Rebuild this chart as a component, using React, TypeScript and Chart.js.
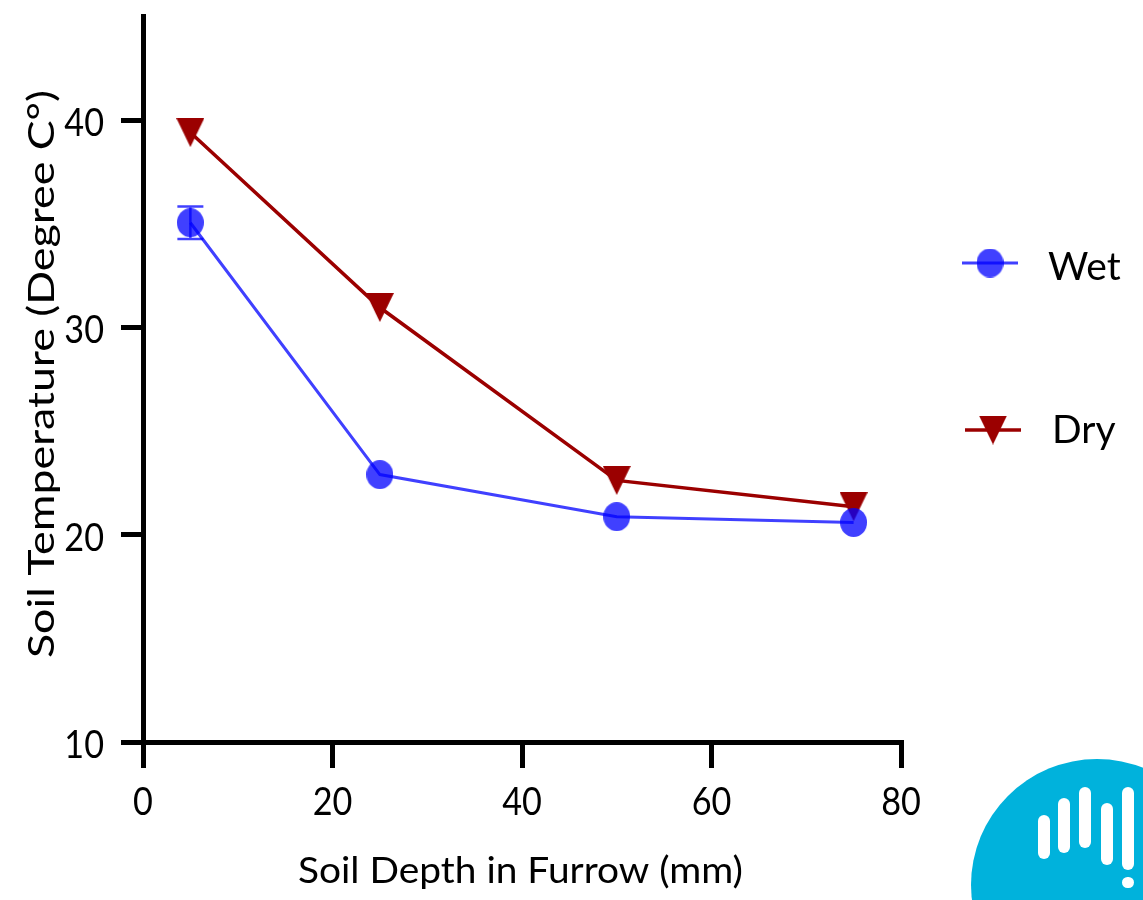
import React, { useEffect, useRef } from "react";
import { Chart, registerables } from "chart.js";

Chart.register(...registerables);

// ---- data ----
const depthMm = [5, 25, 50, 75];
const wetTemp = [35.05, 22.9, 20.87, 20.59];
const wetErr = [0.78, 0, 0, 0];
const dryTemp = [39.4, 30.96, 22.62, 21.35];
const xTickValues = [0, 20, 40, 60, 80];
const yTickValues = [10, 20, 30, 40];
const seriesNames = ["Wet", "Dry"];
const xTitle = "Soil Depth in Furrow (mm)";
const yTitle = "Soil Temperature (Degree C°)";

// ---- styles ----
const WET = "rgba(0,0,255,0.75)";
const DRY = "#9b0000";
const FONT = "Lato, 'Open Sans', sans-serif";
const TICK_SIZE = 38;

function makeEllipse(w: number, h: number, color: string) {
  const c = document.createElement("canvas");
  c.width = w;
  c.height = h;
  const g = c.getContext("2d")!;
  g.fillStyle = color;
  g.beginPath();
  g.ellipse(w / 2, h / 2, w / 2, h / 2, 0, 0, Math.PI * 2);
  g.fill();
  return c;
}

function makeDownTriangle(w: number, h: number, color: string) {
  const c = document.createElement("canvas");
  c.width = w;
  c.height = h;
  const g = c.getContext("2d")!;
  g.fillStyle = color;
  g.beginPath();
  g.moveTo(0, 0);
  g.lineTo(w, 0);
  g.lineTo(w / 2, h);
  g.closePath();
  g.fill();
  return c;
}

const LOGO_BARS = [
  { left: 1038, top: 815, height: 44 },
  { left: 1058, top: 798, height: 55 },
  { left: 1079, top: 787, height: 61 },
  { left: 1101, top: 803, height: 62 },
  { left: 1122, top: 787, height: 83 },
  { left: 1122, top: 877, height: 11 },
];

export default function App() {
  const ref = useRef<HTMLCanvasElement>(null);

  useEffect(() => {
    const canvas = ref.current;
    if (!canvas) return;
    const wetImg = makeEllipse(27, 29, WET);
    const dryImg = makeDownTriangle(28, 29, DRY);

    const errorBarPlugin = {
      id: "errorBars",
      beforeDatasetsDraw(chart: any) {
        const { ctx, scales } = chart;
        const x = scales.x;
        const y = scales.y;
        ctx.save();
        ctx.strokeStyle = WET;
        ctx.lineWidth = 2.5;
        ctx.beginPath();
        depthMm.forEach((d, i) => {
          const e = wetErr[i];
          if (!e) return;
          const px = x.getPixelForValue(d);
          const top = y.getPixelForValue(wetTemp[i] + e);
          const bot = y.getPixelForValue(wetTemp[i] - e);
          ctx.moveTo(px, top);
          ctx.lineTo(px, bot);
          ctx.moveTo(px - 13, top);
          ctx.lineTo(px + 13, top);
          ctx.moveTo(px - 13, bot);
          ctx.lineTo(px + 13, bot);
        });
        ctx.stroke();
        ctx.restore();
      },
    };

    const textPlugin = {
      id: "axisText",
      afterDraw(chart: any) {
        const { ctx, chartArea, scales } = chart;
        ctx.save();
        ctx.fillStyle = "#000";
        ctx.textBaseline = "alphabetic";
        // tick labels
        ctx.font = `${TICK_SIZE}px ${FONT}`;
        ctx.textAlign = "center";
        xTickValues.forEach((v) => {
          const px = scales.x.getPixelForValue(v);
          ctx.save();
          ctx.translate(px, 815);
          ctx.scale(0.9, 1);
          ctx.fillText(String(v), 0, 0);
          ctx.restore();
        });
        ctx.textAlign = "right";
        yTickValues.forEach((v) => {
          const py = scales.y.getPixelForValue(v);
          ctx.save();
          ctx.translate(104, py + 16);
          ctx.scale(0.9, 1);
          ctx.fillText(String(v), 0, 0);
          ctx.restore();
        });
        // axis titles
        ctx.textAlign = "center";
        ctx.font = `37px ${FONT}`;
        let w = ctx.measureText(xTitle).width;
        ctx.save();
        ctx.translate((chartArea.left + chartArea.right) / 2 - 1.5, 883);
        ctx.scale(445 / w, 1);
        ctx.fillText(xTitle, 0, 0);
        ctx.restore();
        w = ctx.measureText(yTitle).width;
        ctx.save();
        ctx.translate(54, 374);
        ctx.rotate(-Math.PI / 2);
        ctx.scale(568 / w, 1);
        ctx.fillText(yTitle, 0, 0);
        ctx.restore();
        ctx.restore();
      },
    };

    const legendPlugin = {
      id: "sideLegend",
      afterDraw(chart: any) {
        const { ctx } = chart;
        const items = [
          { name: seriesNames[0], color: WET, img: wetImg, x1: 962, x2: 1018, y: 263, lw: 3, tx: 1048, ty: 280 },
          { name: seriesNames[1], color: DRY, img: dryImg, x1: 965, x2: 1021, y: 430, lw: 3.5, tx: 1052, ty: 443 },
        ];
        ctx.save();
        items.forEach((it) => {
          ctx.strokeStyle = it.color;
          ctx.lineWidth = it.lw;
          ctx.beginPath();
          ctx.moveTo(it.x1, it.y);
          ctx.lineTo(it.x2, it.y);
          ctx.stroke();
          const cx = (it.x1 + it.x2) / 2;
          ctx.drawImage(it.img, cx - it.img.width / 2, it.y - it.img.height / 2);
          ctx.fillStyle = "#000";
          ctx.font = `39px ${FONT}`;
          ctx.textAlign = "left";
          ctx.textBaseline = "alphabetic";
          ctx.fillText(it.name, it.tx, it.ty);
        });
        ctx.restore();
      },
    };

    const zeroPad = (s: any) => {
      s.paddingTop = 0;
      s.paddingBottom = 0;
      s.paddingLeft = 0;
      s.paddingRight = 0;
    };

    const chart = new Chart(canvas, {
      type: "line",
      data: {
        datasets: [
          {
            label: seriesNames[0],
            data: depthMm.map((d, i) => ({ x: d, y: wetTemp[i] })),
            borderColor: WET,
            borderWidth: 3,
            pointStyle: wetImg as any,
            pointRadius: 13,
            tension: 0,
          },
          {
            label: seriesNames[1],
            data: depthMm.map((d, i) => ({ x: d, y: dryTemp[i] })),
            borderColor: DRY,
            borderWidth: 3.5,
            pointStyle: dryImg as any,
            pointRadius: 13,
            tension: 0,
          },
        ],
      },
      options: {
        animation: false,
        responsive: false,
        maintainAspectRatio: false,
        layout: { padding: { left: 0, top: 14, right: 242, bottom: 0 } },
        plugins: {
          legend: { display: false },
          tooltip: { enabled: false },
        },
        scales: {
          x: {
            type: "linear",
            min: 0,
            max: 80,
            afterFit: (s: any) => {
              s.height = 158;
              zeroPad(s);
            },
            afterBuildTicks: (a: any) => {
              a.ticks = xTickValues.map((v) => ({ value: v }));
            },
            grid: { drawOnChartArea: false, drawTicks: true, tickLength: 26, color: "#000", lineWidth: 5 },
            border: { display: true, color: "#000", width: 5 },
            ticks: { color: "rgba(0,0,0,0)", font: { family: FONT, size: TICK_SIZE }, padding: 10, maxRotation: 0, autoSkip: false },
            title: { display: false },
          },
          y: {
            type: "linear",
            min: 10,
            max: 45,
            afterFit: (s: any) => {
              s.width = 143;
              zeroPad(s);
            },
            afterBuildTicks: (a: any) => {
              a.ticks = yTickValues.map((v) => ({ value: v }));
            },
            grid: { drawOnChartArea: false, drawTicks: true, tickLength: 22, color: "#000", lineWidth: 5 },
            border: { display: true, color: "#000", width: 5 },
            ticks: { color: "rgba(0,0,0,0)", font: { family: FONT, size: TICK_SIZE }, padding: 18, autoSkip: false },
            title: { display: false },
          },
        },
      },
      plugins: [errorBarPlugin, textPlugin, legendPlugin],
    });
    return () => chart.destroy();
  }, []);

  return (
    <div style={{ position: "absolute", left: 0, top: 0, width: 1143, height: 900, overflow: "hidden", background: "#fff" }}>
      <canvas ref={ref} width={1143} height={900} style={{ display: "block", width: 1143, height: 900 }} />
      <div
        style={{
          position: "absolute",
          left: 971,
          top: 759,
          width: 252,
          height: 252,
          borderRadius: "50%",
          background: "#00b2dc",
        }}
      />
      {LOGO_BARS.map((b, i) => (
        <div
          key={i}
          style={{
            position: "absolute",
            left: b.left,
            top: b.top,
            width: 12,
            height: b.height,
            borderRadius: 6,
            background: "#fff",
          }}
        />
      ))}
    </div>
  );
}
